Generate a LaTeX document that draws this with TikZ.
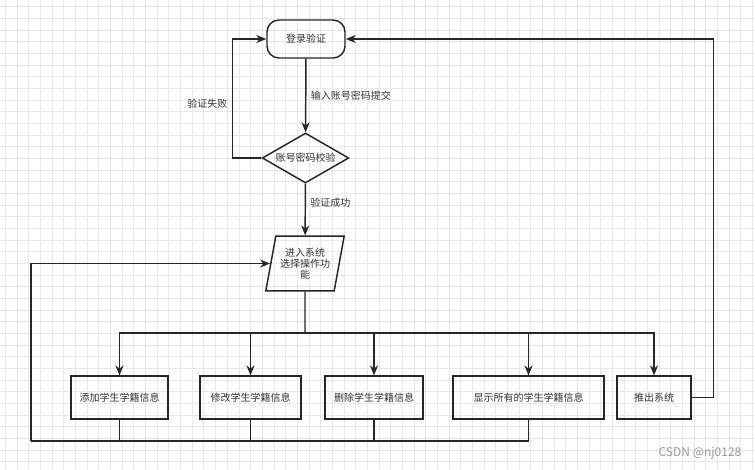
\documentclass[tikz,border=0pt]{standalone}
\usepackage{fontspec}
\setmainfont{Noto Sans CJK SC}
\usetikzlibrary{shapes.geometric,arrows.meta}

\begin{document}
\begin{tikzpicture}[x=0.75pt, y=-0.75pt]

  \tikzset{
    every node/.style={font=\fontsize{7.5}{8.5}\selectfont, text=black!80},
    gridline/.style={draw=black!9, line width=0.6pt},
    flow/.style={draw=black!85, line width=1.1pt, -{Stealth[length=7.5pt,width=6pt]}},
    wire/.style={draw=black!85, line width=1.1pt},
    terminal-box/.style={draw=black!85, line width=1.1pt, rounded corners=9pt,
      minimum width=58.5pt, minimum height=28.5pt, inner sep=0pt},
    decision-box/.style={draw=black!85, line width=1.1pt, diamond, aspect=1.74,
      minimum width=65pt, minimum height=37.5pt, inner sep=0pt},
    io-box/.style={draw=black!85, line width=1.1pt, trapezium,
      trapezium left angle=75, trapezium right angle=105, trapezium stretches=true,
      minimum width=59pt, minimum height=41pt, inner sep=0pt, align=center},
    action-box/.style={draw=black!85, line width=1.1pt, minimum height=32pt, inner sep=0pt}
  }

  % Fix the page to the size of the reference.
  \useasboundingbox (0,0) rectangle (755,469);
  \fill[white] (0,0) rectangle (755,469);

  % Background grid.
  \foreach \gx in {5.5,17.17,...,755}
    \draw[gridline] (\gx,0) -- (\gx,469);
  \foreach \gy in {6.7,18.37,...,469}
    \draw[gridline] (0,\gy) -- (755,\gy);

  % Place the login terminal and the check.
  \node [terminal-box] (login) at (306,39) {登录验证};
  \node [decision-box] (check) at (305.5,158) {账号密码校验};

  % Place the menu.
  \node [io-box] (menu) at (305,263.5) {进入系统\\选择操作功\\能};

  % Place the action boxes.
  \node [action-box, minimum width=72.75pt] (add) at (119.5,397.5) {添加学生学籍信息};
  \node [action-box, minimum width=75.75pt] (edit) at (250.5,397.5) {修改学生学籍信息};
  \node [action-box, minimum width=73.5pt] (del) at (374,397.5) {删除学生学籍信息};
  \node [action-box, minimum width=113.25pt] (show) at (528.5,397.5) {显示所有的学生学籍信息};
  \node [action-box, minimum width=55.5pt] (quit) at (654,397.5) {推出系统};

  \coordinate (split) at (305,333);
  \coordinate (back-low) at (31,441);

  % Login flow.
  \draw[flow] (login) -- node[right, pos=0.5] {输入账号密码提交} (check);
  \draw[flow] (check.west) -- ++(-29,0) |- node[left, pos=0.23] {验证失败} (login.west);
  \draw[flow] (check) -- node[right, pos=0.37] {验证成功} (menu);

  % Menu to the actions.
  \draw[wire] (menu.south) -- (split);
  \foreach \act in {add,edit,del,show,quit}
    \draw[flow] (split) -| (\act.north);

  % Back to the menu.
  \foreach \act in {add,edit,del,show}
    \draw[wire] (\act.south) |- (back-low);
  \draw[flow] (back-low) |- (menu.west);

  % Quit goes back to login.
  \draw[flow] (quit.east) -- ++(22,0) |- (login.east);

  % Watermark.
  \node [font=\fontsize{9}{10}\selectfont, text=black!40] (mark) at (700,453) {CSDN @nj0128};

\end{tikzpicture}
\end{document}
